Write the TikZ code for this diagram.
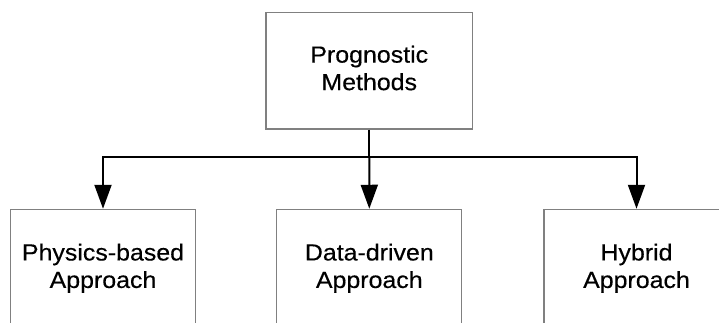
\documentclass[tikz,border=0pt]{standalone}
\usepackage{fontspec}
\setmainfont{Liberation Sans}[FakeStretch=1.07, FakeBold=0.35]
\usetikzlibrary{arrows.meta,calc}

\definecolor{boxgray}{RGB}{128,128,128}

\tikzset{
  methodbox/.style={draw=boxgray, line width=1.1pt, fill=white,
    rectangle, inner sep=0pt, align=center,
    font=\fontsize{23.3}{27.5}\selectfont},
  wide/.style={minimum width=206.5pt, minimum height=116.3pt},
  narrow/.style={minimum width=185pt, minimum height=118.8pt},
  link/.style={line width=2pt, black, line join=miter},
  linkarrow/.style={link, -{Triangle[length=24pt, width=17pt]}}
}

\begin{document}
\begin{tikzpicture}[x=1pt, y=1pt]
  \useasboundingbox (0,0) rectangle (719,322);
  \clip (0,0) rectangle (719,322);
  \fill[white] (0,0) rectangle (719,322);

  % root of the taxonomy
  \node[methodbox, wide] (root) at (369.25,251.15) {Prognostic\strut\\Methods\strut};

  % the three families of approaches
  \node[methodbox, narrow] (physics) at (103,53.3) {Physics-based\strut\\Approach\strut};
  \node[methodbox, narrow] (data)    at (369.3,53.3) {Data-driven\strut\\Approach\strut};
  \node[methodbox, narrow] (hybrid)  at (636.5,53.3) {Hybrid\strut\\Approach\strut};

  % branching connectors
  \coordinate (split) at ($(root.south)+(0,-27.5)$);
  \draw[link] (root.south) -- (split);
  \draw[linkarrow] (split) -| (physics.north);
  \draw[linkarrow] (split) -- (data.north);
  \draw[linkarrow] (split) -| (hybrid.north);
\end{tikzpicture}
\end{document}
